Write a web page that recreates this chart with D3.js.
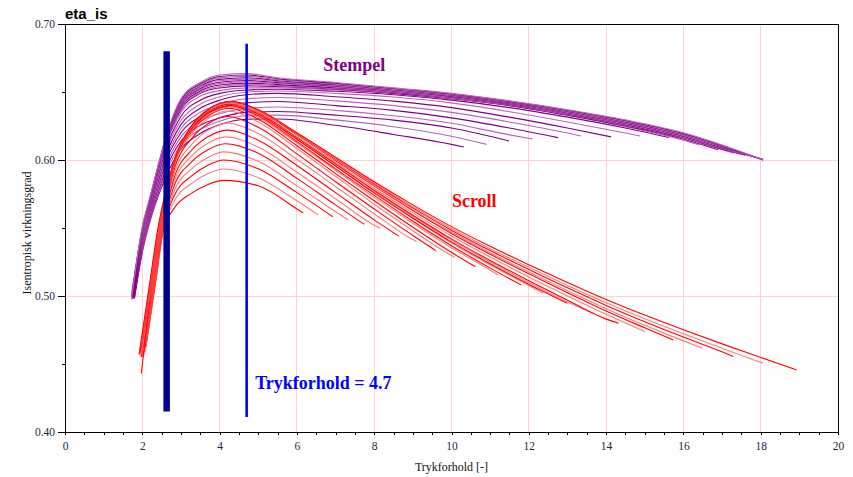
<!DOCTYPE html>
<html><head><meta charset="utf-8">
<script src="https://cdn.jsdelivr.net/npm/d3@7"></script>
<style>body{margin:0;background:#fff} svg{display:block}</style>
</head><body>
<svg id="c" width="853" height="477"></svg>
<script>
// ---------- axis ticks ----------
const xMajorTicks = [0, 2, 4, 6, 8, 10, 12, 14, 16, 18, 20];
const xMinorTicks = [0,0.5,1,1.5,2,2.5,3,3.5,4,4.5,5,5.5,6,6.5,7,7.5,8,8.5,9,9.5,10,10.5,11,11.5,12,12.5,13,13.5,14,14.5,15,15.5,16,16.5,17,17.5,18,18.5,19,19.5,20];
const yMajorTicks = [0.40, 0.50, 0.60, 0.70];
const yMinorTicks = [0.45, 0.55, 0.65];
const xGrid = [2, 4, 6, 8, 10, 12, 14, 16, 18];
const yGrid = [0.50, 0.60];

// ---------- Stempel (piston) family ----------
const stempelGridX = [2.4, 2.6, 3.0, 3.5, 4.0, 4.7, 5.5, 7.0, 8.5, 10, 11.5, 13, 14.5, 16, 17];
const stempelStart = [[1.800,0.499],[1.796,0.501],[1.792,0.498],[1.787,0.502],[1.783,0.499],[1.779,0.503],[1.775,0.500],[1.771,0.504],[1.766,0.499],[1.762,0.502],
  [1.758,0.498],[1.754,0.503],[1.749,0.500],[1.745,0.504],[1.741,0.499],[1.737,0.502],[1.733,0.498],[1.728,0.503],[1.724,0.500],[1.720,0.4975]];
const stempelAt20 = [0.532,0.533,0.534,0.535,0.536,0.537,0.538,0.539,0.540,0.541,0.542,0.543,0.544,0.545,0.546,0.547,0.548,0.549,0.550,0.551];
const stempelAt22 = [0.555,0.556,0.557,0.558,0.559,0.560,0.561,0.562,0.563,0.564,0.5645,0.5655,0.5665,0.5675,0.5685,0.5695,0.5705,0.5715,0.572,0.573];
const stempelY = [
  [0.5725,0.587,0.608,0.6195,0.626,0.630,0.6302,0.6255,0.6188,0.6115],
  [0.574,0.590,0.611,0.6225,0.6285,0.6325,0.633,0.6295,0.6245,0.6175],
  [0.5755,0.5925,0.614,0.6255,0.631,0.635,0.6357,0.633,0.6293,0.6235],
  [0.577,0.595,0.617,0.6285,0.634,0.638,0.639,0.6365,0.6325,0.627,0.6185],
  [0.579,0.598,0.620,0.632,0.638,0.642,0.643,0.640,0.6365,0.631,0.6235],
  [0.581,0.600,0.623,0.635,0.641,0.645,0.646,0.6435,0.640,0.635,0.628,0.6198],
  [0.583,0.6025,0.626,0.638,0.644,0.648,0.649,0.6465,0.6433,0.6385,0.6315,0.6235],
  [0.585,0.605,0.629,0.641,0.6465,0.650,0.6507,0.649,0.6463,0.642,0.6355,0.628,0.6198],
  [0.587,0.607,0.632,0.644,0.649,0.6515,0.652,0.6505,0.648,0.644,0.6385,0.6315,0.6235],
  [0.589,0.609,0.635,0.647,0.651,0.653,0.653,0.6515,0.649,0.6455,0.640,0.633,0.6245,0.6145],
  [0.591,0.611,0.637,0.649,0.653,0.6545,0.654,0.652,0.649,0.645,0.640,0.633,0.625,0.6155],
  [0.5914,0.6116,0.6379,0.6499,0.6541,0.6555,0.6547,0.6526,0.6494,0.6454,0.6404,0.6334,0.6255,0.616],
  [0.5919,0.6121,0.6388,0.6508,0.6551,0.6565,0.6554,0.6531,0.6499,0.6459,0.6408,0.6339,0.626,0.6165,0.608],
  [0.5923,0.6127,0.6397,0.6517,0.6562,0.6575,0.6562,0.6537,0.6503,0.6463,0.6412,0.6343,0.6265,0.617,0.6085],
  [0.5928,0.6132,0.6406,0.6526,0.6572,0.6585,0.6569,0.6542,0.6508,0.6468,0.6416,0.6348,0.627,0.6175,0.609],
  [0.5932,0.6138,0.6414,0.6534,0.6583,0.6595,0.6576,0.6548,0.6512,0.6472,0.6419,0.6352,0.6275,0.618,0.6095],
  [0.5937,0.6143,0.6423,0.6543,0.6593,0.6605,0.6583,0.6553,0.6517,0.6477,0.6423,0.6357,0.628,0.6185,0.610],
  [0.5941,0.6149,0.6432,0.6552,0.6604,0.6615,0.6591,0.6559,0.6521,0.6481,0.6427,0.6361,0.6285,0.619,0.6103],
  [0.5946,0.6154,0.6441,0.6561,0.6614,0.6625,0.6598,0.6564,0.6526,0.6486,0.6431,0.6366,0.629,0.6195,0.6107],
  [0.595,0.616,0.645,0.657,0.6625,0.6635,0.6605,0.657,0.653,0.649,0.6435,0.637,0.6295,0.620,0.611]
];
const stempelEnd = [[10.32,0.6096],[10.91,0.6115],[11.49,0.614],[12.1,0.6154],[12.76,0.6164],[13.35,0.6176],[14.13,0.617],[14.88,0.6176],[15.63,0.6165],[16.42,0.611],
  [16.9,0.6075],[17.3,0.605],[17.6,0.6035],[17.85,0.602],[18.06,0.6005],[18.06,0.6003],[18.06,0.6002],[18.06,0.6001],[18.06,0.600],[18.06,0.600]];

// ---------- Scroll family ----------
const scrollCurves = [
  [[2.097,0.463],[2.35,0.511],[2.55,0.549],[2.8,0.5635],[3.3,0.576],[3.7,0.582],[4.1,0.585],[5,0.581],[6,0.564],[6.16,0.561]],
  [[2.064,0.458],[2.343,0.511],[2.543,0.549],[2.8,0.5683],[3.3,0.5832],[3.7,0.590],[4.1,0.5934],[5,0.587],[6,0.570],[6.55,0.5596]],
  [[2.099,0.466],[2.336,0.511],[2.536,0.549],[2.8,0.5722],[3.3,0.5889],[3.7,0.5962],[4.1,0.600],[5,0.5935],[6,0.576],[6.93,0.5583]],
  [[2.04,0.456],[2.33,0.511],[2.53,0.549],[2.8,0.5756],[3.3,0.5941],[3.7,0.6019],[4.1,0.606],[5,0.599],[6,0.581],[7,0.562],[7.33,0.5559]],
  [[2.065,0.462],[2.323,0.511],[2.523,0.549],[2.8,0.5791],[3.3,0.5993],[3.7,0.6076],[4.15,0.612],[5,0.605],[6,0.5865],[7,0.567],[7.74,0.5527]],
  [[2.09,0.468],[2.316,0.511],[2.516,0.549],[2.8,0.582],[3.3,0.6036],[3.7,0.6123],[4.15,0.617],[5,0.6095],[6,0.591],[7,0.5715],[8,0.552],[8.15,0.5498]],
  [[2.014,0.455],[2.309,0.511],[2.509,0.549],[2.8,0.5849],[3.3,0.6079],[3.7,0.6171],[4.2,0.622],[5,0.6145],[6,0.596],[7,0.576],[8,0.556],[8.64,0.544]],
  [[2.034,0.46],[2.302,0.511],[2.502,0.549],[2.8,0.5878],[3.3,0.6122],[3.7,0.6218],[4.2,0.627],[5,0.6195],[6,0.6005],[7,0.5805],[8,0.5605],[9,0.5415],[9.1,0.540]],
  [[2.053,0.465],[2.296,0.511],[2.496,0.549],[2.8,0.5907],[3.3,0.6165],[3.7,0.6266],[4.2,0.632],[5,0.624],[6,0.6045],[7,0.584],[8,0.564],[9,0.5445],[9.59,0.5335]],
  [[2.004,0.457],[2.289,0.511],[2.489,0.549],[2.8,0.593],[3.3,0.620],[3.7,0.6304],[4.2,0.636],[5,0.628],[6,0.6085],[7,0.588],[8,0.5675],[9,0.548],[10,0.5297],[10.08,0.5285]],
  [[2.024,0.462],[2.282,0.511],[2.482,0.549],[2.8,0.5941],[3.3,0.6217],[3.7,0.6323],[4.25,0.638],[5,0.630],[6,0.6105],[7,0.590],[8,0.570],[9,0.5505],[10,0.532],[10.62,0.5215]],
  [[2.049,0.468],[2.275,0.511],[2.475,0.549],[2.8,0.5947],[3.3,0.6226],[3.7,0.6332],[4.25,0.639],[5,0.6315],[6,0.6125],[7,0.5925],[8,0.5725],[9,0.5535],[10,0.5355],[11,0.519],[11.21,0.5154]],
  [[1.973,0.455],[2.268,0.511],[2.468,0.549],[2.8,0.5953],[3.3,0.6234],[3.7,0.6342],[4.25,0.640],[5,0.6325],[6,0.6135],[7,0.5935],[8,0.574],[9,0.555],[10,0.537],[11,0.5205],[11.81,0.508]],
  [[1.993,0.46],[2.261,0.511],[2.461,0.549],[2.8,0.5958],[3.3,0.6243],[3.7,0.6351],[4.25,0.641],[5,0.6335],[6,0.615],[7,0.5955],[8,0.5755],[9,0.557],[10,0.539],[11,0.523],[12,0.5077],[12.38,0.502]],
  [[1.975,0.443],[2.255,0.511],[2.455,0.549],[2.8,0.5958],[3.3,0.6243],[3.7,0.6351],[4.25,0.641],[5,0.6338],[6,0.6152],[7,0.5956],[8,0.576],[9,0.5574],[10,0.5398],[11,0.5237],[12,0.5086],[13,0.4946]],
  [[1.969,0.458],[2.248,0.511],[2.448,0.549],[2.8,0.5964],[3.3,0.6251],[3.7,0.6361],[4.25,0.642],[5,0.6349],[6,0.6163],[7,0.5968],[8,0.5772],[9,0.5586],[10,0.5411],[11,0.525],[12,0.5099],[13,0.4955],[13.67,0.4873]],
  [[1.994,0.464],[2.241,0.511],[2.441,0.549],[2.8,0.5964],[3.3,0.6251],[3.7,0.6361],[4.25,0.642],[5,0.635],[6,0.6166],[7,0.5972],[8,0.5778],[9,0.5594],[10,0.542],[11,0.5261],[12,0.5112],[13,0.4968],[14,0.483],[14.32,0.480]],
  [[1.944,0.456],[2.234,0.511],[2.434,0.549],[2.8,0.5964],[3.3,0.6251],[3.7,0.6361],[4.25,0.642],[5,0.6353],[6,0.6172],[7,0.5982],[8,0.5792],[9,0.5611],[10,0.5441],[11,0.5286],[12,0.514],[13,0.500],[14,0.4865],[15,0.4738]],
  [[1.964,0.461],[2.227,0.511],[2.427,0.549],[2.8,0.597],[3.3,0.626],[3.7,0.637],[4.3,0.643],[5,0.6364],[6,0.6185],[7,0.5996],[8,0.5808],[9,0.5629],[10,0.546],[11,0.5307],[12,0.5163],[13,0.5024],[14,0.489],[15,0.4766],[15.74,0.4676]],
  [[1.983,0.466],[2.22,0.511],[2.42,0.549],[2.8,0.597],[3.3,0.626],[3.7,0.637],[4.3,0.643],[5,0.6365],[6,0.6188],[7,0.6001],[8,0.5814],[9,0.5637],[10,0.547],[11,0.5318],[12,0.5176],[13,0.5039],[14,0.4907],[15,0.4785],[16,0.467],[16.5,0.4615]],
  [[1.935,0.458],[2.214,0.511],[2.414,0.549],[2.8,0.597],[3.3,0.626],[3.7,0.637],[4.3,0.643],[5,0.6367],[6,0.6192],[7,0.6008],[8,0.5823],[9,0.5648],[10,0.5484],[11,0.5334],[12,0.5195],[13,0.506],[14,0.4931],[15,0.4811],[16,0.4698],[17,0.459],[17.29,0.4556]],
  [[1.949,0.462],[2.207,0.511],[2.407,0.549],[2.8,0.597],[3.3,0.626],[3.7,0.637],[4.3,0.643],[5,0.6368],[6,0.6196],[7,0.6013],[8,0.5831],[9,0.5658],[10,0.5496],[11,0.5348],[12,0.5211],[13,0.5078],[14,0.4951],[15,0.4833],[16,0.4723],[17,0.4616],[18,0.4512],[18.07,0.4505]],
  [[1.916,0.457],[2.2,0.511],[2.4,0.549],[2.6,0.576],[2.8,0.597],[3.3,0.626],[3.7,0.637],[4.3,0.643],[5,0.637],[6,0.620],[7,0.602],[8,0.584],[9,0.567],[10,0.551],[11,0.5365],[12,0.523],[13,0.510],[14,0.4975],[15,0.486],[16,0.4752],[17,0.4648],[18,0.4548],[18.93,0.4456]]
];

// ---------- markers & labels ----------
const markerBar = {x: 2.63, y0: 0.415, y1: 0.680};
const markerLine = {x: 4.7, y0: 0.411, y1: 0.6855};
const annotations = [
  {text: "Stempel", x: 6.68, y: 0.6655, color: "#800080"},
  {text: "Scroll", x: 10.01, y: 0.5655, color: "#ff0000"},
  {text: "Trykforhold = 4.7", x: 4.92, y: 0.4318, color: "#0000ff"}
];

// ---------- drawing ----------
const svg = d3.select("#c");
const L = 65, R = 838, T = 24, B = 432;
const x = d3.scaleLinear().domain([0, 20]).range([L, R]);
const y = d3.scaleLinear().domain([0.40, 0.70]).range([B, T]);
const serif = "'Liberation Serif','Times New Roman',serif";
const labelColor = "#1c2742";

svg.append("rect").attr("width", 853).attr("height", 477).attr("fill", "#fff");

// grid
const g = svg.append("g");
g.selectAll(".vg").data(xGrid).join("line")
  .attr("x1", d => x(d)).attr("x2", d => x(d)).attr("y1", T).attr("y2", B)
  .attr("stroke", "#ffd2d2").attr("stroke-width", 1).attr("shape-rendering", "crispEdges");
g.selectAll(".hg").data(yGrid).join("line")
  .attr("x1", L).attr("x2", R).attr("y1", d => y(d)).attr("y2", d => y(d))
  .attr("stroke", "#ffd2d2").attr("stroke-width", 1).attr("shape-rendering", "crispEdges");

const line = d3.line().x(d => x(d[0])).y(d => y(d[1])).curve(d3.curveMonotoneX);

// build stempel curves from their arrays
const stempelCurves = stempelY.map((ys, j) => {
  const pts = [stempelStart[j], [2.0, stempelAt20[j]], [2.2, stempelAt22[j]]];
  ys.forEach((v, k) => pts.push([stempelGridX[k], v]));
  pts.push(stempelEnd[j]);
  return pts;
});

svg.append("clipPath").attr("id", "plot").append("rect")
  .attr("x", L).attr("y", T).attr("width", R - L).attr("height", B - T);
const plot = svg.append("g").attr("clip-path", "url(#plot)");

plot.selectAll(".st").data(stempelCurves).join("path")
  .attr("d", line).attr("fill", "none")
  .attr("stroke", (d, i) => i % 2 ? "#b866b8" : "#800080")
  .attr("stroke-width", 1.1);

plot.selectAll(".sc").data(scrollCurves).join("path")
  .attr("d", line).attr("fill", "none")
  .attr("stroke", (d, i) => i % 2 ? "#ff7a7a" : "#ff0000")
  .attr("stroke-width", 1.1);

// markers
svg.append("line")
  .attr("x1", x(markerBar.x)).attr("x2", x(markerBar.x))
  .attr("y1", y(markerBar.y0)).attr("y2", y(markerBar.y1))
  .attr("stroke", "#000090").attr("stroke-width", 6.5);
svg.append("line")
  .attr("x1", x(markerLine.x)).attr("x2", x(markerLine.x))
  .attr("y1", y(markerLine.y0)).attr("y2", y(markerLine.y1))
  .attr("stroke", "#0000ff").attr("stroke-width", 2.6);

// frame
svg.append("rect").attr("x", L).attr("y", T).attr("width", R - L).attr("height", B - T)
  .attr("fill", "none").attr("stroke", "#000").attr("stroke-width", 1).attr("shape-rendering", "crispEdges");

// axes
const yAxisMajor = d3.axisLeft(y).tickValues(yMajorTicks).tickSize(7).tickPadding(3).tickFormat(d3.format(".2f"));
const yAxisMinor = d3.axisLeft(y).tickValues(yMinorTicks).tickSize(3).tickFormat("");
const xAxisMinor = d3.axisBottom(x).tickValues(xMinorTicks).tickSize(3).tickFormat("");
const xAxisMajor = d3.axisBottom(x).tickValues(xMajorTicks).tickSize(3).tickPadding(7).tickFormat(d3.format("d"));

function style(sel) {
  sel.select(".domain").remove();
  sel.selectAll(".tick line").attr("stroke", "#000").attr("shape-rendering", "crispEdges");
  sel.selectAll(".tick text").attr("font-family", serif).attr("font-size", 11.5).attr("fill", labelColor);
}
svg.append("g").attr("transform", `translate(${L},0)`).call(yAxisMajor).call(style);
svg.append("g").attr("transform", `translate(${L},0)`).call(yAxisMinor).call(style);
svg.append("g").attr("transform", `translate(0,${B})`).call(xAxisMinor).call(style);
svg.append("g").attr("transform", `translate(0,${B})`).call(xAxisMajor).call(style);

// axis titles
svg.append("text").attr("x", (L + R) / 2).attr("y", 471).attr("text-anchor", "middle")
  .attr("font-family", serif).attr("font-size", 12).attr("fill", "#111")
  .text("Trykforhold [-]");
svg.append("text").attr("transform", `translate(31,${233}) rotate(-90)`).attr("text-anchor", "middle")
  .attr("font-family", serif).attr("font-size", 12).attr("fill", "#111")
  .text("Isentropisk virkningsgrad");

// title
svg.append("text").attr("x", 65).attr("y", 19)
  .attr("font-family", "'Liberation Sans',Arial,sans-serif").attr("font-weight", "bold")
  .attr("font-size", 15).attr("fill", "#000").text("eta_is");

// annotations
svg.selectAll(".ann").data(annotations).join("text")
  .attr("x", d => x(d.x)).attr("y", d => y(d.y))
  .attr("font-family", serif).attr("font-weight", "bold").attr("font-size", 18)
  .attr("fill", d => d.color).text(d => d.text);
</script>
</body></html>
